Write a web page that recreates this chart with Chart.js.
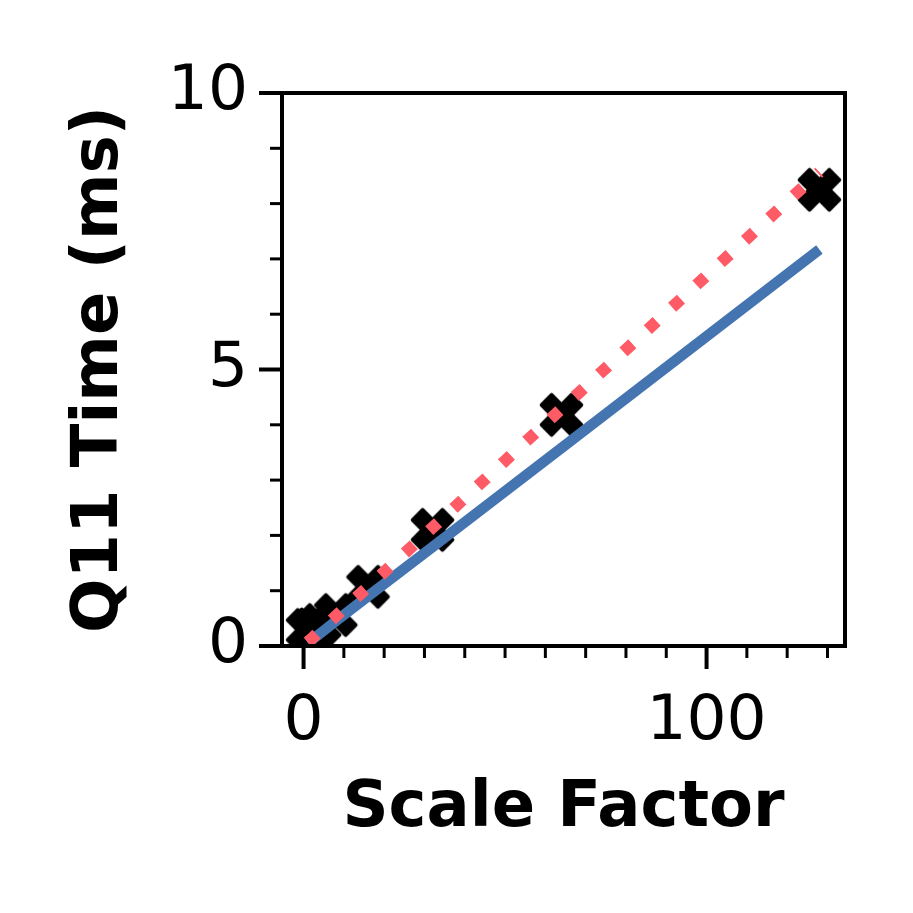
<!DOCTYPE html>
<html>
<head>
<meta charset="utf-8">
<script src="https://cdn.jsdelivr.net/npm/chart.js@4.4.1/dist/chart.umd.min.js"></script>
<style>
html,body{margin:0;padding:0;background:#fff;}
#c{display:block;}
</style>
</head>
<body>
<canvas id="c" width="913" height="913"></canvas>
<script>
// ---- data ----
const scaleFactors = [1, 2, 4, 8, 16, 32, 64, 128];
const measuredTimes = [0.29, 0.30, 0.38, 0.56, 1.07, 2.10, 4.18, 8.25];
const fitTimes = [0.07, 0.13, 0.27, 0.54, 1.07, 2.14, 4.29, 8.57];
const modelTimes = [0.06, 0.11, 0.22, 0.45, 0.90, 1.79, 3.58, 7.17];
const xMajorTicks = [0, 100];
const xMinorTicks = [10, 20, 30, 40, 50, 60, 70, 80, 90, 110, 120, 130];
const yMajorTicks = [0, 5, 10];
const yMinorTicks = [1, 2, 3, 4, 6, 7, 8, 9];
const xTitle = 'Scale Factor';
const yTitle = 'Q11 Time (ms)';

const RED = '#FF5B66';
const BLUE = '#4575B0';

// filled "X" marker image
function makeXMarker(S) {
  const size = Math.ceil(S * 1.1 + 8);
  const cv = document.createElement('canvas');
  cv.width = size; cv.height = size;
  const g = cv.getContext('2d');
  g.translate(size / 2, size / 2);
  g.rotate(Math.PI / 4);
  const a = S / 6, b = S / 2;
  const pts = [[-a,-b],[a,-b],[a,-a],[b,-a],[b,a],[a,a],[a,b],[-a,b],[-a,a],[-b,a],[-b,-a],[-a,-a]];
  g.beginPath();
  pts.forEach((p, i) => i ? g.lineTo(p[0], p[1]) : g.moveTo(p[0], p[1]));
  g.closePath();
  g.fillStyle = '#000';
  g.fill();
  g.lineJoin = 'round';
  g.lineWidth = 4;
  g.strokeStyle = '#000';
  g.stroke();
  return cv;
}
const xMarker = makeXMarker(42);

const toXY = (ys) => scaleFactors.map((x, i) => ({x: x, y: ys[i]}));

const frameAndTicks = {
  id: 'frameAndTicks',
  afterDraw(chart) {
    const ctx = chart.ctx;
    const ca = chart.chartArea;
    const xs = chart.scales.x, ys = chart.scales.y;
    ctx.save();
    ctx.strokeStyle = '#000';
    ctx.lineCap = 'butt';
    const drawX = (vals, len, w) => {
      ctx.lineWidth = w;
      vals.forEach(v => {
        const px = xs.getPixelForValue(v);
        ctx.beginPath(); ctx.moveTo(px, ca.bottom); ctx.lineTo(px, ca.bottom + len); ctx.stroke();
      });
    };
    const drawY = (vals, len, w) => {
      ctx.lineWidth = w;
      vals.forEach(v => {
        const py = ys.getPixelForValue(v);
        ctx.beginPath(); ctx.moveTo(ca.left, py); ctx.lineTo(ca.left - len, py); ctx.stroke();
      });
    };
    drawX(xMajorTicks, 23, 4);
    drawX(xMinorTicks, 12, 3);
    drawY(yMajorTicks, 23, 4);
    drawY(yMinorTicks, 12, 3);
    ctx.lineWidth = 4;
    ctx.lineJoin = 'miter';
    ctx.strokeRect(ca.left, ca.top, ca.right - ca.left, ca.bottom - ca.top);
    ctx.restore();
  }
};

new Chart(document.getElementById('c'), {
  type: 'line',
  data: {
    datasets: [
      {
        label: 'fit',
        data: toXY(fitTimes),
        borderColor: RED,
        borderWidth: 12,
        borderDash: [12, 21],
        borderCapStyle: 'butt',
        pointRadius: 0,
        fill: false,
        tension: 0,
        order: 0
      },
      {
        label: 'model',
        data: toXY(modelTimes),
        borderColor: BLUE,
        borderWidth: 10.5,
        borderCapStyle: 'butt',
        pointRadius: 0,
        fill: false,
        tension: 0,
        order: 1
      },
      {
        label: 'measured',
        data: toXY(measuredTimes),
        showLine: false,
        pointStyle: xMarker,
        pointRadius: 22,
        pointHoverRadius: 22,
        order: 2
      }
    ]
  },
  options: {
    responsive: false,
    animation: false,
    devicePixelRatio: 1,
    events: [],
    layout: { padding: { left: 0, top: 93, right: 68, bottom: 0 } },
    plugins: { legend: { display: false }, tooltip: { enabled: false } },
    scales: {
      x: {
        type: 'linear',
        min: -5.35,
        max: 134.35,
        afterBuildTicks: (s) => { s.ticks = xMajorTicks.map(v => ({value: v})); },
        afterFit: (s) => { s.height = 267; },
        grid: { display: false, drawTicks: false },
        border: { display: false },
        ticks: {
          padding: 45,
          color: '#000',
          maxRotation: 0,
          autoSkip: false,
          font: { family: 'DejaVu Sans', size: 63, lineHeight: 1 },
          callback: (v) => String(v)
        },
        title: {
          display: true,
          text: xTitle,
          color: '#000',
          font: { family: 'DejaVu Sans', size: 64, weight: 'bold', lineHeight: 1 },
          padding: { top: 0, bottom: 72 }
        }
      },
      y: {
        type: 'linear',
        min: 0,
        max: 10,
        afterBuildTicks: (s) => { s.ticks = yMajorTicks.map(v => ({value: v})); },
        afterFit: (s) => { s.width = 282; },
        grid: { display: false, drawTicks: false },
        border: { display: false },
        ticks: {
          padding: 34,
          color: '#000',
          autoSkip: false,
          font: { family: 'DejaVu Sans', size: 63, lineHeight: 1 },
          callback: (v) => String(v)
        },
        title: {
          display: true,
          text: yTitle,
          color: '#000',
          font: { family: 'DejaVu Sans', size: 64, weight: 'bold', lineHeight: 1 },
          padding: { top: 68, bottom: 0 }
        }
      }
    }
  },
  plugins: [frameAndTicks]
});
</script>
</body>
</html>
